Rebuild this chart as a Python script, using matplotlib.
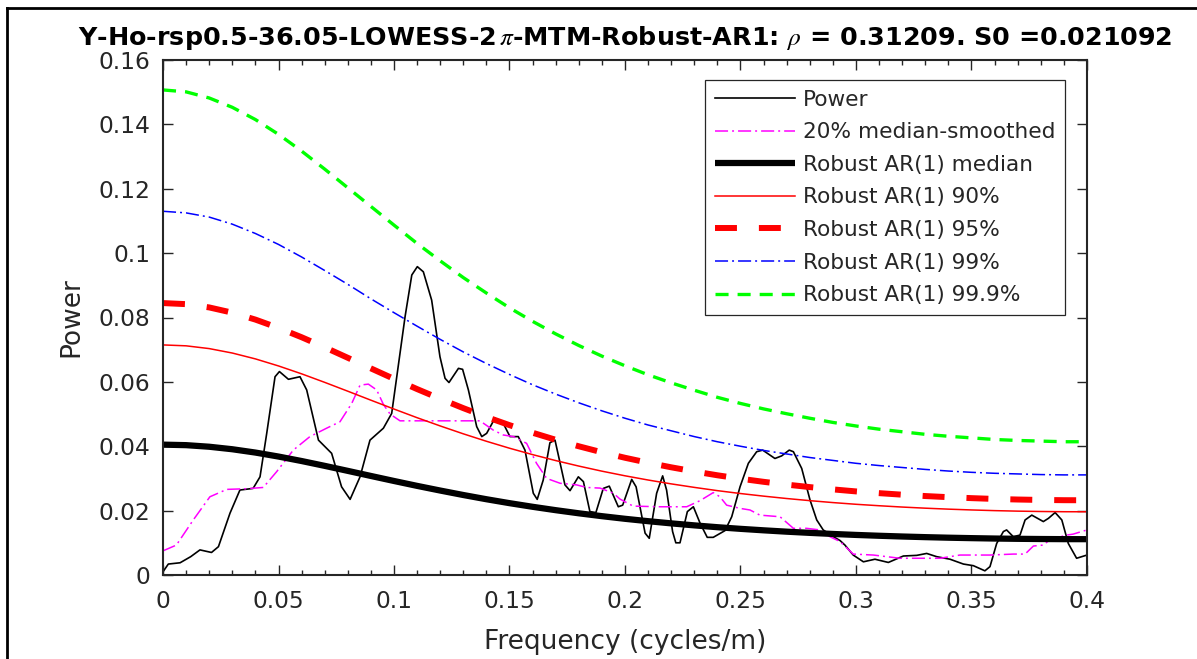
import matplotlib
matplotlib.use("Agg")
import matplotlib.pyplot as plt
from matplotlib.lines import Line2D
from matplotlib.ticker import FixedLocator, FixedFormatter, MultipleLocator

# ---------------- data ----------------
power_freq = [0.0000, 0.0023, 0.0074, 0.0120, 0.0160, 0.0210, 0.0240, 0.0290, 0.0333, 0.0390,
              0.0420, 0.0449, 0.0485, 0.0504, 0.0543, 0.0593, 0.0622, 0.0673, 0.0730, 0.0773,
              0.0810, 0.0853, 0.0896, 0.0954, 0.0990, 0.1012, 0.1048, 0.1077, 0.1101, 0.1127,
              0.1163, 0.1199, 0.1221, 0.1238, 0.1279, 0.1297, 0.1322, 0.1358, 0.1380, 0.1401,
              0.1437, 0.1473, 0.1502, 0.1538, 0.1567, 0.1603, 0.1620, 0.1646, 0.1675, 0.1697,
              0.1740, 0.1762, 0.1798, 0.1820, 0.1848, 0.1874, 0.1906, 0.1932, 0.1971, 0.1990,
              0.2029, 0.2048, 0.2087, 0.2105, 0.2137, 0.2163, 0.2180, 0.2206, 0.2220, 0.2238,
              0.2270, 0.2296, 0.2325, 0.2356, 0.2382, 0.2433, 0.2462, 0.2498, 0.2534, 0.2570,
              0.2596, 0.2649, 0.2678, 0.2711, 0.2729, 0.2765, 0.2801, 0.2830, 0.2858, 0.2902,
              0.2931, 0.2952, 0.2988, 0.3032, 0.3082, 0.3140, 0.3205, 0.3263, 0.3306, 0.3349,
              0.3407, 0.3465, 0.3508, 0.3558, 0.3580, 0.3609, 0.3638, 0.3652, 0.3681, 0.3710,
              0.3732, 0.3761, 0.3811, 0.3833, 0.3862, 0.3891, 0.3919, 0.3955, 0.4000]
power_vals = [0.0010, 0.0034, 0.0038, 0.0057, 0.0078, 0.0070, 0.0088, 0.0192, 0.0264, 0.0269,
              0.0305, 0.0440, 0.0616, 0.0632, 0.0608, 0.0616, 0.0575, 0.0419, 0.0378, 0.0274,
              0.0235, 0.0305, 0.0419, 0.0456, 0.0502, 0.0616, 0.0803, 0.0932, 0.0958, 0.0942,
              0.0854, 0.0678, 0.0611, 0.0598, 0.0642, 0.0639, 0.0575, 0.0461, 0.0430, 0.0440,
              0.0487, 0.0471, 0.0430, 0.0430, 0.0388, 0.0254, 0.0235, 0.0295, 0.0411, 0.0419,
              0.0280, 0.0262, 0.0305, 0.0290, 0.0197, 0.0194, 0.0269, 0.0276, 0.0212, 0.0217,
              0.0297, 0.0274, 0.0130, 0.0114, 0.0254, 0.0308, 0.0264, 0.0135, 0.0100, 0.0100,
              0.0197, 0.0212, 0.0161, 0.0117, 0.0117, 0.0138, 0.0181, 0.0274, 0.0347, 0.0383,
              0.0388, 0.0362, 0.0370, 0.0388, 0.0383, 0.0331, 0.0233, 0.0171, 0.0140, 0.0119,
              0.0107, 0.0093, 0.0062, 0.0041, 0.0049, 0.0039, 0.0059, 0.0061, 0.0067, 0.0057,
              0.0049, 0.0034, 0.0029, 0.0013, 0.0026, 0.0098, 0.0135, 0.0140, 0.0119, 0.0124,
              0.0171, 0.0186, 0.0166, 0.0176, 0.0194, 0.0171, 0.0098, 0.0052, 0.0062]

smooth_freq = [0.0000, 0.0058, 0.0131, 0.0203, 0.0276, 0.0362, 0.0434, 0.0492, 0.0564, 0.0636,
               0.0708, 0.0766, 0.0817, 0.0853, 0.0889, 0.0925, 0.0954, 0.0983, 0.1026, 0.1372,
               0.1430, 0.1473, 0.1517, 0.1574, 0.1617, 0.1661, 0.1719, 0.1790, 0.1834, 0.1892,
               0.1950, 0.1978, 0.2035, 0.2152, 0.2267, 0.2325, 0.2382, 0.2411, 0.2440, 0.2498,
               0.2541, 0.2584, 0.2671, 0.2729, 0.2786, 0.2844, 0.2887, 0.2931, 0.2988, 0.3075,
               0.3190, 0.3364, 0.3450, 0.3580, 0.3681, 0.3732, 0.3768, 0.3811, 0.3840, 0.3912,
               0.3940, 0.4000]
smooth_vals = [0.0075, 0.0093, 0.0171, 0.0243, 0.0266, 0.0268, 0.0272, 0.0321, 0.0388, 0.0430,
               0.0456, 0.0476, 0.0533, 0.0590, 0.0593, 0.0575, 0.0530, 0.0500, 0.0479, 0.0479,
               0.0450, 0.0435, 0.0430, 0.0409, 0.0347, 0.0300, 0.0285, 0.0280, 0.0272, 0.0270,
               0.0254, 0.0236, 0.0214, 0.0212, 0.0212, 0.0231, 0.0256, 0.0243, 0.0217, 0.0207,
               0.0202, 0.0186, 0.0181, 0.0145, 0.0145, 0.0140, 0.0119, 0.0104, 0.0065, 0.0062,
               0.0052, 0.0052, 0.0062, 0.0062, 0.0065, 0.0065, 0.0090, 0.0093, 0.0110, 0.0124,
               0.0127, 0.0140]

ar_freq = [0.00, 0.01, 0.02, 0.03, 0.04, 0.05, 0.06, 0.07, 0.08, 0.09, 0.10,
           0.11, 0.12, 0.13, 0.14, 0.15, 0.16, 0.17, 0.18, 0.19, 0.20,
           0.21, 0.22, 0.23, 0.24, 0.25, 0.26, 0.27, 0.28, 0.29, 0.30,
           0.31, 0.32, 0.33, 0.34, 0.35, 0.36, 0.37, 0.38, 0.39, 0.40]
ar_median = [0.04050, 0.04034, 0.03985, 0.03907, 0.03804, 0.03680, 0.03541, 0.03391, 0.03235,
             0.03077, 0.02921, 0.02769, 0.02624, 0.02485, 0.02354, 0.02232, 0.02119, 0.02014,
             0.01917, 0.01828, 0.01746, 0.01672, 0.01604, 0.01542, 0.01485, 0.01434, 0.01388,
             0.01346, 0.01309, 0.01275, 0.01245, 0.01219, 0.01196, 0.01176, 0.01159, 0.01145,
             0.01133, 0.01124, 0.01118, 0.01114, 0.01113]
ar_90 = [0.07148, 0.07120, 0.07034, 0.06896, 0.06714, 0.06495, 0.06250, 0.05985, 0.05710,
         0.05431, 0.05156, 0.04887, 0.04631, 0.04386, 0.04155, 0.03939, 0.03740, 0.03555,
         0.03384, 0.03226, 0.03082, 0.02951, 0.02831, 0.02722, 0.02621, 0.02531, 0.02450,
         0.02376, 0.02310, 0.02250, 0.02197, 0.02152, 0.02111, 0.02076, 0.02046, 0.02021,
         0.02000, 0.01984, 0.01973, 0.01966, 0.01964]
ar_95 = [0.08448, 0.08415, 0.08313, 0.08150, 0.07935, 0.07676, 0.07387, 0.07074, 0.06748,
         0.06419, 0.06093, 0.05776, 0.05474, 0.05184, 0.04910, 0.04656, 0.04420, 0.04201,
         0.03999, 0.03813, 0.03642, 0.03488, 0.03346, 0.03217, 0.03098, 0.02991, 0.02895,
         0.02808, 0.02731, 0.02660, 0.02597, 0.02543, 0.02495, 0.02453, 0.02418, 0.02388,
         0.02363, 0.02345, 0.02332, 0.02324, 0.02322]
ar_99 = [0.1130, 0.1125, 0.1112, 0.1090, 0.1061, 0.1027, 0.0988, 0.0946, 0.0903, 0.0858,
         0.0815, 0.0773, 0.0732, 0.0693, 0.0657, 0.0623, 0.0591, 0.0562, 0.0535, 0.0510,
         0.0487, 0.0466, 0.0448, 0.0430, 0.0414, 0.0400, 0.0387, 0.0376, 0.0365, 0.0356,
         0.0347, 0.0340, 0.0334, 0.0328, 0.0323, 0.0319, 0.0316, 0.0314, 0.0312, 0.0311, 0.0311]
ar_999 = [0.1507, 0.1501, 0.1482, 0.1453, 0.1415, 0.1369, 0.1317, 0.1261, 0.1203, 0.1145,
          0.1087, 0.1030, 0.0976, 0.0924, 0.0876, 0.0830, 0.0788, 0.0749, 0.0713, 0.0680,
          0.0650, 0.0622, 0.0597, 0.0574, 0.0552, 0.0533, 0.0516, 0.0501, 0.0487, 0.0474,
          0.0463, 0.0453, 0.0445, 0.0437, 0.0431, 0.0426, 0.0421, 0.0418, 0.0416, 0.0414, 0.0414]

series_labels = ["Power", "20% median-smoothed", "Robust AR(1) median", "Robust AR(1) 90%",
                 "Robust AR(1) 95%", "Robust AR(1) 99%", "Robust AR(1) 99.9%"]

xtick_vals = [0, 0.05, 0.1, 0.15, 0.2, 0.25, 0.3, 0.35, 0.4]
xtick_labels = ["0", "0.05", "0.1", "0.15", "0.2", "0.25", "0.3", "0.35", "0.4"]
ytick_vals = [0, 0.02, 0.04, 0.06, 0.08, 0.1, 0.12, 0.14, 0.16]
ytick_labels = ["0", "0.02", "0.04", "0.06", "0.08", "0.1", "0.12", "0.14", "0.16"]

title_text = r"Y-Ho-rsp0.5-36.05-LOWESS-2$\,\pi$-MTM-Robust-AR1: $\rho$ = 0.31209. S0 =0.021092"
xlabel_text = "Frequency (cycles/m)"
ylabel_text = "Power"

# ---------------- style ----------------
plt.rcParams['font.family'] = ['DejaVu Sans']
plt.rcParams['mathtext.fontset'] = 'stix'
plt.rcParams['lines.scale_dashes'] = False
AX = '#262626'

W, H = 1197, 659
fig = plt.figure(figsize=(W / 100, H / 100), dpi=100)
ax = fig.add_axes([163 / W, (H - 575) / H, 924 / W, 515 / H])

ax.plot(power_freq, power_vals, color='black', lw=1.2, label=series_labels[0])
ax.plot(smooth_freq, smooth_vals, color=(1, 0, 1), lw=1.1, dashes=(9.4, 2.9, 1.4, 2.9),
        dash_capstyle='butt', label=series_labels[1])
ax.plot(ar_freq, ar_median, color='black', lw=4.5, solid_capstyle='butt', label=series_labels[2])
ax.plot(ar_freq, ar_90, color='red', lw=1.1, label=series_labels[3])
ax.plot(ar_freq, ar_95, color='red', lw=4.3, dashes=(15.8, 15.8), dash_capstyle='butt',
        label=series_labels[4])
ax.plot(ar_freq, ar_99, color='blue', lw=1.1, dashes=(9.4, 2.9, 1.4, 2.9), dash_capstyle='butt',
        label=series_labels[5])
ax.plot(ar_freq, ar_999, color=(0, 1, 0), lw=2.4, dashes=(9.4, 6.5), dash_capstyle='butt',
        label=series_labels[6])

ax.set_xlim(0, 0.4)
ax.set_ylim(0, 0.16)
ax.xaxis.set_major_locator(FixedLocator(xtick_vals))
ax.xaxis.set_major_formatter(FixedFormatter(xtick_labels))
ax.xaxis.set_minor_locator(MultipleLocator(0.01))
ax.yaxis.set_major_locator(FixedLocator(ytick_vals))
ax.yaxis.set_major_formatter(FixedFormatter(ytick_labels))

for s in ax.spines.values():
    s.set_linewidth(1.5)
    s.set_color(AX)
ax.tick_params(which='both', direction='in', top=True, right=True, colors=AX, width=1.0)
ax.tick_params(which='major', length=7)
ax.tick_params(which='minor', length=3.6)
ax.tick_params(axis='x', which='major', labelsize=16.8, pad=11)
ax.tick_params(axis='y', which='major', labelsize=16.8, pad=9)

ax.set_xlabel(xlabel_text, fontsize=19, color=AX)
ax.set_ylabel(ylabel_text, fontsize=19, color=AX)
ax.xaxis.set_label_coords(0.5, -0.105)
ax.yaxis.set_label_coords(-(163 - 84) / 924, 0.5)

ax.set_title(title_text, fontsize=18.3, fontweight='bold', color='black', pad=10.5)

leg = ax.legend(loc='upper right', bbox_to_anchor=(1065 / W, 1 - 80 / H),
                bbox_transform=fig.transFigure, borderaxespad=0, fontsize=15.6,
                handlelength=3.7, handletextpad=0.36, labelspacing=0.58, borderpad=0.45,
                fancybox=False, framealpha=1, edgecolor=AX)
leg.get_frame().set_linewidth(0.9)
for t in leg.get_texts():
    t.set_color(AX)

# outer frame lines (top and left) as in the reference
fig.add_artist(Line2D([7 / W, 1.0], [1 - 8 / H, 1 - 8 / H], transform=fig.transFigure,
                      color='black', lw=2))
fig.add_artist(Line2D([7 / W, 7 / W], [0.0, 1 - 8 / H], transform=fig.transFigure,
                      color='black', lw=2))

fig.savefig("out.png", dpi=100)
